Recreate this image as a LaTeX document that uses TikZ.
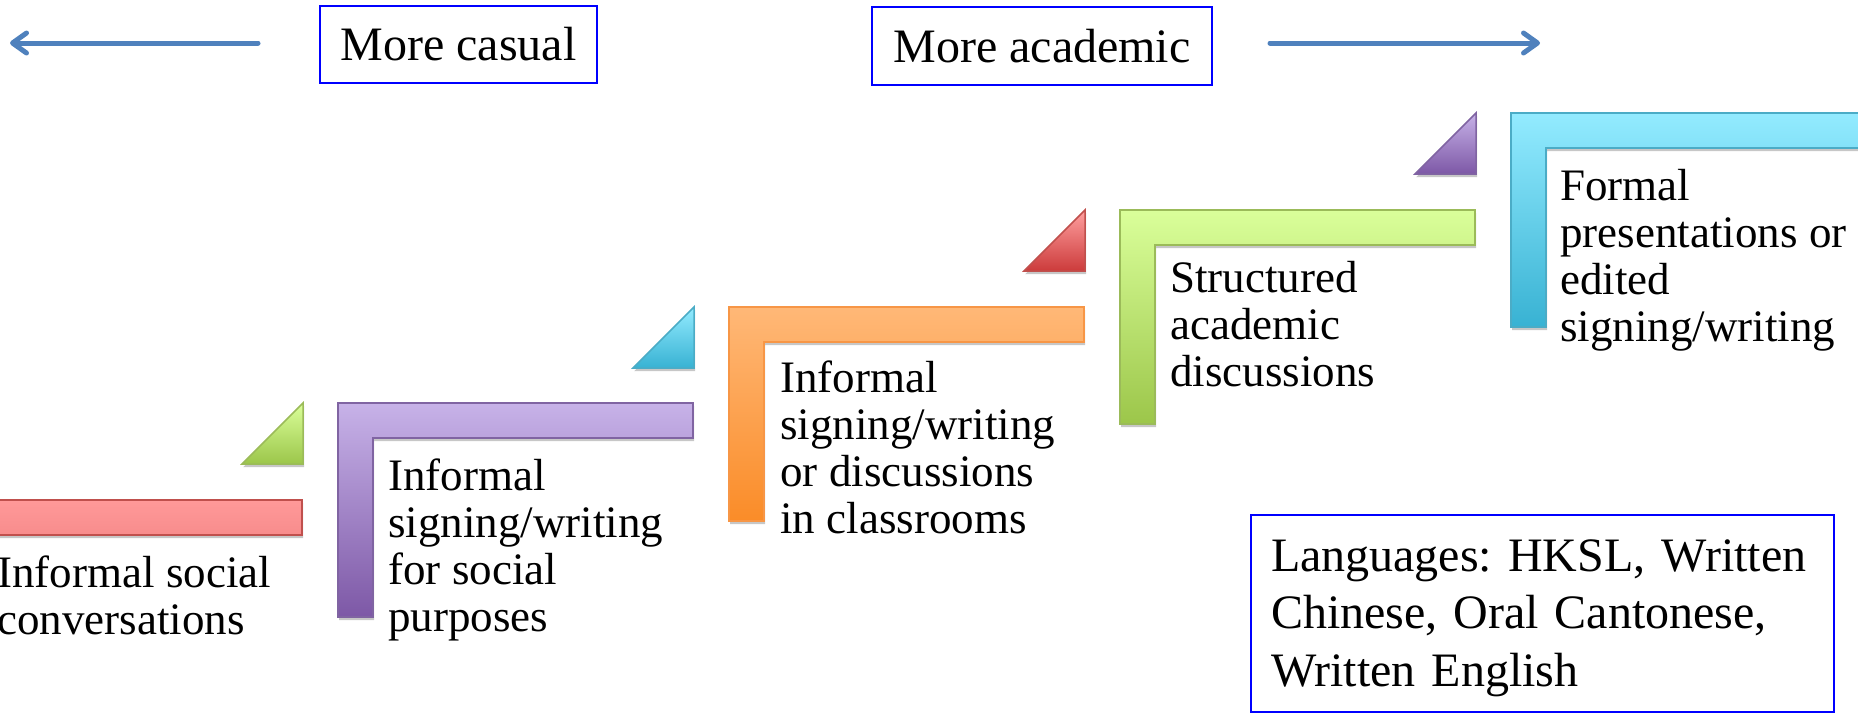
\documentclass[tikz,border=0pt]{standalone}
\usepackage{fontspec}
\setmainfont{Liberation Serif}
\usetikzlibrary{arrows.meta,shadows}
\definecolor{pinkB}{HTML}{C0504D}\definecolor{pinkT}{HTML}{FF9999}\definecolor{pinkD}{HTML}{D04A4A}
\definecolor{redT}{HTML}{FFA0A0}\definecolor{redD}{HTML}{CC3B3B}
\definecolor{purB}{HTML}{8064A2}\definecolor{purT}{HTML}{C7B2E8}\definecolor{purD}{HTML}{7D58A6}
\definecolor{oraB}{HTML}{F79646}\definecolor{oraT}{HTML}{FFB877}\definecolor{oraD}{HTML}{FA8C28}
\definecolor{greB}{HTML}{9BBB59}\definecolor{greT}{HTML}{DAFF9A}\definecolor{greD}{HTML}{9CC64A}
\definecolor{cyaB}{HTML}{4BACC6}\definecolor{cyaT}{HTML}{93EBFF}\definecolor{cyaD}{HTML}{38B2D3}
\definecolor{arrowblue}{HTML}{4F81BD}
\newcommand\Lshape[3]{\path[#3] (#1,#2) -- ++(355,0) -- ++(0,35) -- ++(-320,0) -- ++(0,179) -- ++(-35,0) -- cycle;}
\newcommand\Rtri[3]{\path[#3] (#1,#2) -- ++(0,61) -- ++(-61,0) -- cycle;}
\tikzset{
  shp/.style={line width=0.75pt, drop shadow={shadow xshift=0.6pt, shadow yshift=-1.6pt, opacity=0.22, fill=black}},
  spink/.style={shp, draw=pinkB, top color=pinkT, bottom color=pinkD},
  sred/.style={shp, draw=pinkB, top color=redT, bottom color=redD},
  spur/.style={shp, draw=purB, top color=purT, bottom color=purD},
  sora/.style={shp, draw=oraB, top color=oraT, bottom color=oraD},
  sgre/.style={shp, draw=greB, top color=greT, bottom color=greD},
  scya/.style={shp, draw=cyaB, top color=cyaT, bottom color=cyaD},
  steptext/.style={anchor=north west, inner sep=0pt, align=left, font=\fontsize{22.5}{23.5}\selectfont\frenchspacing},
  topbox/.style={draw=blue, line width=1pt, inner sep=0pt, font=\fontsize{24}{28}\selectfont},
  langbox/.style={draw=blue, line width=1pt, anchor=north west, inner xsep=10pt, inner ysep=7.9pt, align=left, text width=271.5pt, font=\fontsize{24}{28.75}\selectfont\frenchspacing},
  bluearrow/.style={draw=arrowblue, line width=2.5pt, line cap=round, -{Straight Barb[length=7pt,width=10pt,line cap=round,line join=round]}},
}
\begin{document}
\begin{tikzpicture}[x=0.5pt,y=-0.5pt]
\useasboundingbox (0,0) rectangle (1858,714);
\clip (0,0) rectangle (1858,714);
% step shapes
\Lshape{-53}{500}{spink}
\Lshape{338}{403}{spur}
\Lshape{729}{307}{sora}
\Lshape{1120}{210}{sgre}
\Lshape{1511}{113}{scya}
% triangles
\Rtri{303}{403}{sgre}
\Rtri{694}{307}{scya}
\Rtri{1085}{210}{sred}
\Rtri{1476}{113}{spur}
% step texts
\node[steptext] (t1) at (-3,554) {\strut Informal social\\conversations};
\node[steptext] (t2) at (388,457) {\strut Informal\\signing/writing\\for social\\purposes};
\node[steptext] (t3) at (780,359) {\strut Informal\\signing/writing\\or discussions\\in classrooms};
\node[steptext] (t4) at (1170,259) {\strut Structured\\academic\\discussions};
\node[steptext] (t5) at (1560,167) {\strut Formal\\presentations or\\edited\\signing/writing};
% top labels
\node[topbox, minimum width=138.5pt, minimum height=38.5pt] (casual) at (458.5,44.5) {More casual};
\node[topbox, minimum width=170pt, minimum height=39pt] (academic) at (1042,46) {More academic};
\coordinate (cs) at (258,43);
\coordinate (ce) at (10,43);
\coordinate (as) at (1270,43);
\coordinate (ae) at (1540,43);
\draw[bluearrow] (cs) -- (ce);
\draw[bluearrow] (as) -- (ae);
% languages
\node[langbox] (lang) at (1250,514) {\strut Languages: HKSL, Written\\Chinese, Oral Cantonese,\\Written English};
\end{tikzpicture}
\end{document}
